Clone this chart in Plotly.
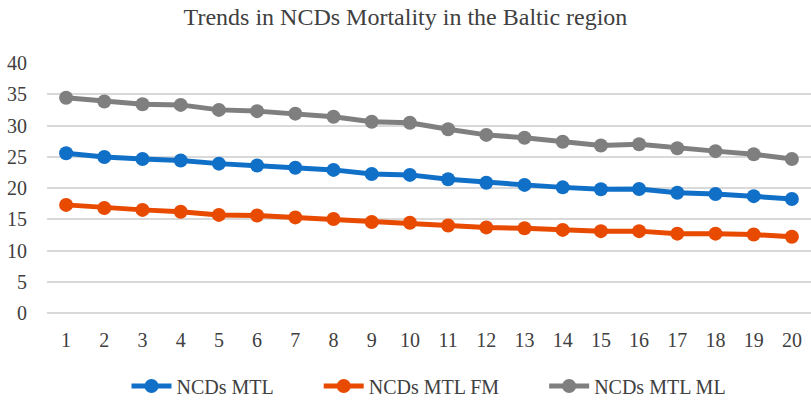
import plotly.graph_objects as go

years = list(range(1, 21))
ncds_mtl = [25.55, 24.95, 24.65, 24.4, 23.9, 23.6, 23.25, 22.9, 22.25, 22.1,
            21.4, 20.85, 20.5, 20.1, 19.8, 19.85, 19.25, 19.05, 18.7, 18.25]
ncds_mtl_fm = [17.3, 16.8, 16.5, 16.2, 15.7, 15.6, 15.3, 15.05, 14.55, 14.45,
               14.0, 13.7, 13.55, 13.3, 13.1, 13.1, 12.7, 12.7, 12.55, 12.2]
ncds_mtl_ml = [34.45, 33.85, 33.4, 33.3, 32.5, 32.3, 31.9, 31.4, 30.6, 30.45,
               29.4, 28.5, 28.05, 27.4, 26.8, 27.0, 26.35, 25.9, 25.4, 24.65]
y_ticks = [0, 5, 10, 15, 20, 25, 30, 35, 40]

series = [
    ("NCDs MTL", ncds_mtl, "#1070C8"),
    ("NCDs MTL FM", ncds_mtl_fm, "#E84A00"),
    ("NCDs MTL ML", ncds_mtl_ml, "#7F7F7F"),
]

FONT = "Liberation Serif"
PAD = "\u00a0" * 8
fig = go.Figure()
for i, (name, vals, col) in enumerate(series):
    fig.add_trace(go.Scatter(
        x=years, y=vals, name=name + (PAD if i < len(series) - 1 else ""),
        mode="lines+markers",
        line=dict(color=col, width=5),
        marker=dict(color=col, size=14),
    ))

fig.update_layout(
    width=811, height=401,
    template="none",
    paper_bgcolor="white", plot_bgcolor="white",
    margin=dict(l=47, r=0, t=63, b=88, autoexpand=False),
    title=dict(text="Trends in NCDs Mortality in the Baltic region",
               x=0.5, xanchor="center", y=0.959, yanchor="middle",
               font=dict(family=FONT, size=24, color="#404040")),
    font=dict(family=FONT, size=20, color="#404040"),
    showlegend=True,
    legend=dict(orientation="h", x=0.5, xanchor="center", y=-0.292, yanchor="middle",
                font=dict(family=FONT, size=20, color="#404040"),
                itemwidth=40, tracegroupgap=0, bgcolor="rgba(0,0,0,0)"),
    xaxis=dict(range=[0.5, 20.5], tickmode="array", tickvals=years,
               showgrid=False, zeroline=False, showline=False, automargin=False,
               ticks="outside", ticklen=9, tickcolor="rgba(0,0,0,0)",
               tickfont=dict(family=FONT, size=20, color="#404040")),
    yaxis=dict(range=[0, 40], tickmode="array", tickvals=y_ticks,
               showgrid=True, gridcolor="#D9D9D9", gridwidth=1.5,
               zeroline=True, zerolinecolor="#D9D9D9", zerolinewidth=1.5,
               showline=False, automargin=False,
               ticks="outside", ticklen=15, tickcolor="rgba(0,0,0,0)",
               tickfont=dict(family=FONT, size=20, color="#404040")),
)

fig.write_html("out.html", config={"displayModeBar": False},
               post_script="document.body.style.margin='0';document.body.style.overflow='hidden';")
